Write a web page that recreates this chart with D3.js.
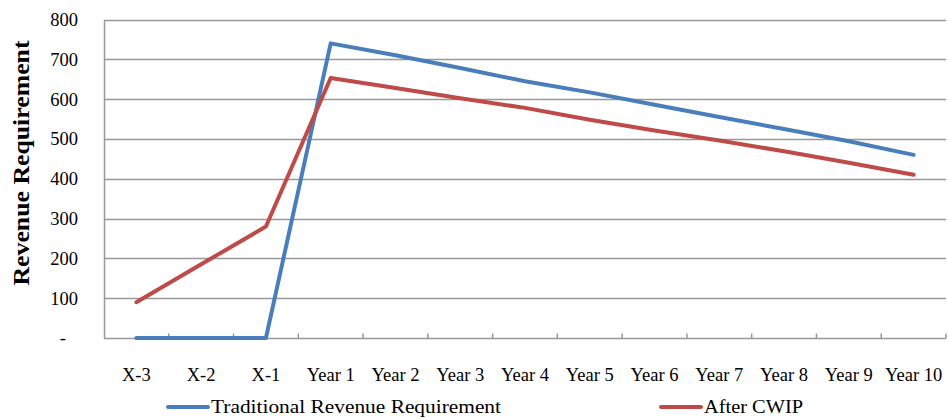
<!DOCTYPE html>
<html>
<head>
<meta charset="utf-8">
<script src="https://cdn.jsdelivr.net/npm/d3@7"></script>
<style>
  html, body { margin: 0; padding: 0; background: #fff; }
  svg { display: block; }
  text { font-family: "Liberation Serif", "DejaVu Serif", serif; fill: #000; }
</style>
</head>
<body>
<svg id="chart" width="948" height="420"></svg>
<script>
// Categories along the x axis
const categories = ["X-3", "X-2", "X-1", "Year 1", "Year 2", "Year 3", "Year 4",
  "Year 5", "Year 6", "Year 7", "Year 8", "Year 9", "Year 10"];

// Revenue requirement series
const traditional = [0, 0, 0, 740, 710, 678, 645, 617, 586, 555, 525, 494, 460];
const afterCwip = [90, 185, 280, 653, 628, 602, 578, 548, 521, 496, 469, 440, 410];

const seriesNames = ["Traditional Revenue Requirement", "After CWIP"];
const seriesColors = ["#4a7ebb", "#be4b48"];

// Y axis tick values and labels
const yTicks = [0, 100, 200, 300, 400, 500, 600, 700, 800];
const yLabel = "Revenue Requirement";

const svg = d3.select("#chart");
const margin = { left: 104, right: 2, top: 19.5, bottom: 82 };
const W = 948, H = 420;

const x = d3.scaleBand()
  .domain(categories)
  .range([margin.left, W - margin.right])
  .paddingInner(0).paddingOuter(0);

const y = d3.scaleLinear()
  .domain([0, 800])
  .range([H - margin.bottom, margin.top]);

const gridColor = "#989898";
const tickFont = "18.5px";

// Horizontal gridlines
svg.append("g")
  .selectAll("line")
  .data(yTicks.filter(d => d > 0))
  .join("line")
  .attr("x1", margin.left)
  .attr("x2", W - margin.right)
  .attr("y1", d => Math.round(y(d)) + 0.5)
  .attr("y2", d => Math.round(y(d)) + 0.5)
  .attr("stroke", gridColor)
  .attr("stroke-width", 1.5);

// Y axis
const yAxis = d3.axisLeft(y)
  .tickValues(yTicks)
  .tickSize(0)
  .tickPadding(26)
  .tickFormat(d => d === 0 ? "-" : d3.format("d")(d));

const gy = svg.append("g")
  .attr("transform", `translate(${margin.left},0)`)
  .call(yAxis);
gy.select(".domain").attr("stroke", gridColor).attr("stroke-width", 1.5);
gy.selectAll("text")
  .style("font-family", '"Liberation Serif", serif')
  .style("font-size", tickFont)
  .attr("fill", "#000");
gy.selectAll(".tick text")
  .filter(d => d === 0)
  .attr("dx", "-12");

// X axis with ticks between categories, pointing into the plot
const xAxisY = Math.round(y(0)) + 0.5;
const gx = svg.append("g").attr("transform", `translate(0,${xAxisY})`);
gx.append("line")
  .attr("x1", margin.left).attr("x2", W - margin.right)
  .attr("stroke", gridColor).attr("stroke-width", 1.5);
gx.selectAll("line.tk")
  .data(categories)
  .join("line")
  .attr("class", "tk")
  .attr("x1", d => x(d) + x.bandwidth())
  .attr("x2", d => x(d) + x.bandwidth())
  .attr("y1", 0).attr("y2", -5)
  .attr("stroke", gridColor).attr("stroke-width", 1.5);
gx.selectAll("text")
  .data(categories)
  .join("text")
  .attr("x", d => x(d) + x.bandwidth() / 2)
  .attr("y", 42)
  .attr("text-anchor", "middle")
  .style("font-size", tickFont)
  .text(d => d);

// Y axis title
svg.append("text")
  .attr("transform", "translate(29,163) rotate(-90)")
  .attr("text-anchor", "middle")
  .attr("textLength", 245)
  .attr("lengthAdjust", "spacingAndGlyphs")
  .style("font-size", "23px")
  .style("font-weight", "bold")
  .text(yLabel);

// Series lines
const line = d3.line()
  .x((d, i) => x(categories[i]) + x.bandwidth() / 2)
  .y(d => y(d));

[traditional, afterCwip].forEach((vals, k) => {
  svg.append("path")
    .datum(vals)
    .attr("fill", "none")
    .attr("stroke", seriesColors[k])
    .attr("stroke-width", 4)
    .attr("stroke-linejoin", "round")
    .attr("stroke-linecap", "round")
    .attr("d", line);
});

// Legend
const legendItems = [
  { name: seriesNames[0], color: seriesColors[0], x: 168, w: 290 },
  { name: seriesNames[1], color: seriesColors[1], x: 661, w: 99 }
];
const lg = svg.append("g").attr("transform", "translate(0,413)");
legendItems.forEach(it => {
  lg.append("line")
    .attr("x1", it.x).attr("x2", it.x + 40)
    .attr("y1", -6).attr("y2", -6)
    .attr("stroke", it.color).attr("stroke-width", 4)
    .attr("stroke-linecap", "round");
  lg.append("text")
    .attr("x", it.x + 43)
    .attr("y", 0)
    .attr("textLength", it.w)
    .attr("lengthAdjust", "spacingAndGlyphs")
    .style("font-size", "19px")
    .text(it.name);
});
</script>
</body>
</html>
